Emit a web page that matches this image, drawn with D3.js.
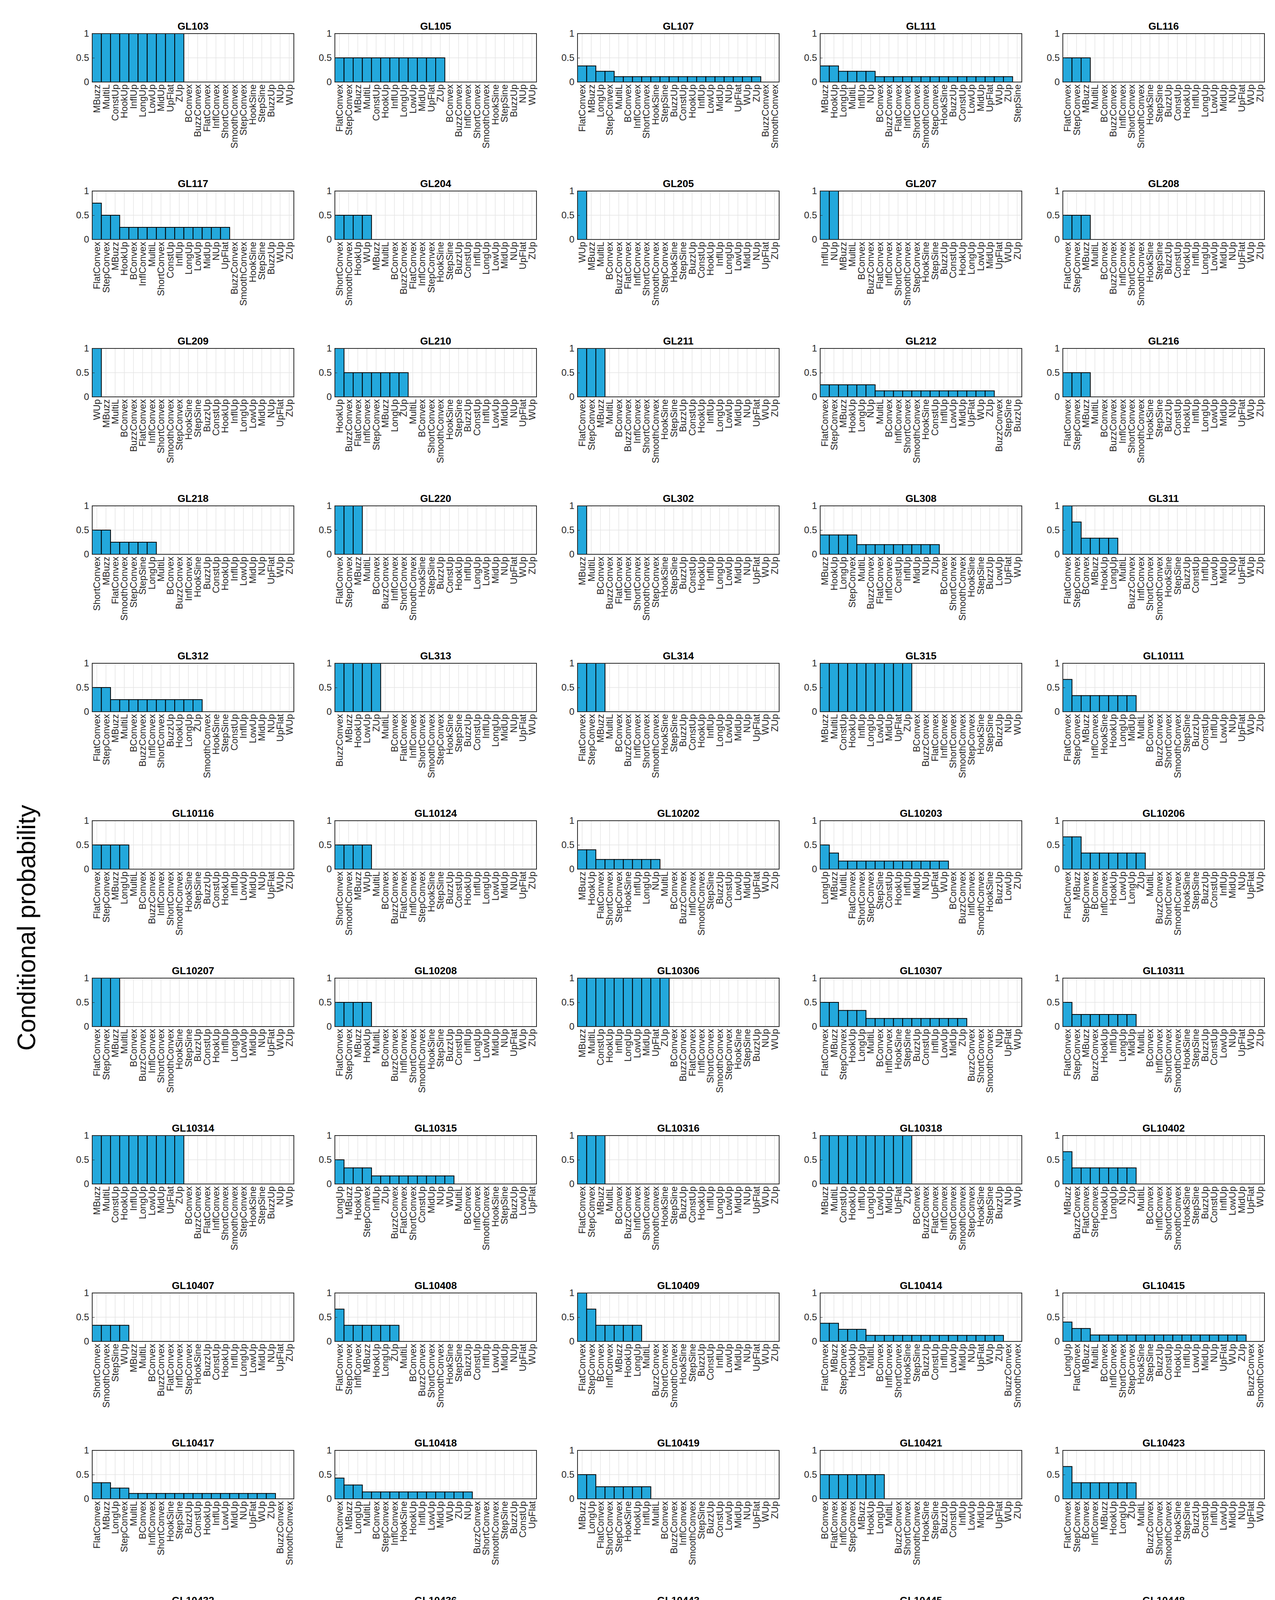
<!DOCTYPE html>
<html>
<head>
<meta charset="utf-8">
<script src="https://cdn.jsdelivr.net/npm/d3@7"></script>
<style>
  body { margin: 0; background: #fff; }
  text { font-family: "Liberation Sans", Arial, sans-serif; }
</style>
</head>
<body>
<div id="chart"></div>
<script>
// master category order (ties and zeros follow this order)
const categories = ["MBuzz", "MultiL", "BConvex", "BuzzConvex", "FlatConvex", "InflConvex",
  "ShortConvex", "SmoothConvex", "StepConvex", "HookSine", "StepSine", "BuzzUp", "ConstUp",
  "HookUp", "InflUp", "LongUp", "LowUp", "MidUp", "NUp", "UpFlat", "WUp", "ZUp"];

const yTicks = [0, 0.5, 1];

const allUp = "MBuzz MultiL ConstUp HookUp InflUp LongUp LowUp MidUp UpFlat ZUp";

// nonzero bars per panel, in displayed order: [value, "labels"]
const panels = [
  {name: "GL103", bars: [[1, allUp]]},
  {name: "GL105", bars: [[0.5, "FlatConvex StepConvex " + allUp]]},
  {name: "GL107", bars: [[0.333, "FlatConvex MBuzz"], [0.222, "LongUp StepConvex"],
    [0.111, "MultiL BConvex InflConvex ShortConvex HookSine StepSine BuzzUp ConstUp HookUp InflUp LowUp MidUp NUp UpFlat WUp ZUp"]]},
  {name: "GL111", bars: [[0.333, "MBuzz HookUp"], [0.222, "LongUp MultiL InflUp NUp"],
    [0.111, "BConvex BuzzConvex FlatConvex InflConvex ShortConvex SmoothConvex StepConvex HookSine BuzzUp ConstUp LowUp MidUp UpFlat WUp ZUp"]]},
  {name: "GL116", bars: [[0.5, "FlatConvex StepConvex MBuzz"]]},

  {name: "GL117", bars: [[0.75, "FlatConvex"], [0.5, "StepConvex MBuzz"],
    [0.25, "HookUp BConvex InflConvex MultiL ShortConvex ConstUp InflUp LongUp LowUp MidUp NUp UpFlat"]]},
  {name: "GL204", bars: [[0.5, "ShortConvex SmoothConvex HookUp WUp"]]},
  {name: "GL205", bars: [[1, "WUp"]]},
  {name: "GL207", bars: [[1, "InflUp NUp"]]},
  {name: "GL208", bars: [[0.5, "FlatConvex StepConvex MBuzz"]]},

  {name: "GL209", bars: [[1, "WUp"]]},
  {name: "GL210", bars: [[1, "HookUp"], [0.5, "BuzzConvex FlatConvex InflConvex StepConvex MBuzz LongUp ZUp"]]},
  {name: "GL211", bars: [[1, "FlatConvex StepConvex MBuzz"]]},
  {name: "GL212", bars: [[0.25, "FlatConvex StepConvex MBuzz HookUp LongUp NUp"],
    [0.125, "MultiL BConvex InflConvex ShortConvex SmoothConvex HookSine ConstUp InflUp LowUp MidUp UpFlat WUp ZUp"]]},
  {name: "GL216", bars: [[0.5, "FlatConvex StepConvex MBuzz"]]},

  {name: "GL218", bars: [[0.5, "ShortConvex MBuzz"], [0.25, "FlatConvex SmoothConvex StepConvex StepSine LongUp"]]},
  {name: "GL220", bars: [[1, "FlatConvex StepConvex MBuzz"]]},
  {name: "GL302", bars: [[1, "MBuzz"]]},
  {name: "GL308", bars: [[0.4, "MBuzz HookUp LongUp StepConvex"],
    [0.2, "MultiL BuzzConvex FlatConvex InflConvex ConstUp InflUp MidUp NUp ZUp"]]},
  {name: "GL311", bars: [[1, "FlatConvex"], [0.667, "StepConvex"], [0.333, "BConvex MBuzz HookUp LongUp"]]},

  {name: "GL312", bars: [[0.5, "FlatConvex StepConvex"],
    [0.25, "MBuzz MultiL BConvex BuzzConvex InflConvex ShortConvex BuzzUp HookUp LongUp ZUp"]]},
  {name: "GL313", bars: [[1, "BuzzConvex MBuzz HookUp LowUp ZUp"]]},
  {name: "GL314", bars: [[1, "FlatConvex StepConvex MBuzz"]]},
  {name: "GL315", bars: [[1, allUp]]},
  {name: "GL10111", bars: [[0.667, "FlatConvex"], [0.333, "StepConvex MBuzz InflConvex HookSine HookUp LongUp MidUp"]]},

  {name: "GL10116", bars: [[0.5, "FlatConvex StepConvex MBuzz LongUp"]]},
  {name: "GL10124", bars: [[0.5, "ShortConvex SmoothConvex MBuzz WUp"]]},
  {name: "GL10202", bars: [[0.4, "MBuzz HookUp"], [0.2, "FlatConvex ShortConvex StepConvex HookSine InflUp LongUp NUp"]]},
  {name: "GL10203", bars: [[0.5, "LongUp"], [0.333, "MBuzz"],
    [0.167, "MultiL FlatConvex ShortConvex StepConvex StepSine ConstUp HookUp InflUp MidUp NUp UpFlat WUp"]]},
  {name: "GL10206", bars: [[0.667, "FlatConvex MBuzz"], [0.333, "StepConvex BConvex InflConvex HookUp LowUp LongUp ZUp"]]},

  {name: "GL10207", bars: [[1, "FlatConvex StepConvex MBuzz"]]},
  {name: "GL10208", bars: [[0.5, "FlatConvex StepConvex MBuzz HookUp"]]},
  {name: "GL10306", bars: [[1, allUp]]},
  {name: "GL10307", bars: [[0.5, "FlatConvex MBuzz"], [0.333, "StepConvex HookUp LongUp"],
    [0.167, "MultiL BConvex InflConvex HookSine StepSine BuzzUp ConstUp InflUp LowUp MidUp ZUp"]]},
  {name: "GL10311", bars: [[0.5, "FlatConvex"], [0.25, "StepConvex MBuzz BuzzConvex HookUp InflUp LongUp MidUp"]]},

  {name: "GL10314", bars: [[1, allUp]]},
  {name: "GL10315", bars: [[0.5, "LongUp"], [0.333, "MBuzz HookUp StepConvex"],
    [0.167, "InflUp ZUp BuzzConvex FlatConvex ShortConvex ConstUp MidUp NUp WUp"]]},
  {name: "GL10316", bars: [[1, "FlatConvex StepConvex MBuzz"]]},
  {name: "GL10318", bars: [[1, allUp]]},
  {name: "GL10402", bars: [[0.667, "MBuzz"], [0.333, "BuzzConvex FlatConvex StepConvex HookUp LongUp NUp ZUp"]]},

  {name: "GL10407", bars: [[0.333, "ShortConvex SmoothConvex StepSine WUp"]]},
  {name: "GL10408", bars: [[0.667, "FlatConvex"], [0.333, "StepConvex InflConvex MBuzz HookUp LongUp ZUp"]]},
  {name: "GL10409", bars: [[1, "FlatConvex"], [0.667, "StepConvex"], [0.333, "BConvex InflConvex MBuzz HookUp LongUp"]]},
  {name: "GL10414", bars: [[0.375, "FlatConvex MBuzz"], [0.25, "StepConvex HookUp LongUp"],
    [0.125, "MultiL BConvex InflConvex ShortConvex HookSine StepSine BuzzUp ConstUp InflUp LowUp MidUp NUp UpFlat WUp ZUp"]]},
  {name: "GL10415", bars: [[0.4, "LongUp"], [0.267, "FlatConvex MBuzz"],
    [0.133, "MultiL BConvex InflConvex ShortConvex StepConvex HookSine StepSine BuzzUp ConstUp HookUp InflUp LowUp MidUp NUp UpFlat WUp ZUp"]]},

  {name: "GL10417", bars: [[0.333, "FlatConvex MBuzz"], [0.222, "LongUp StepConvex"],
    [0.111, "MultiL BConvex InflConvex ShortConvex HookSine StepSine BuzzUp ConstUp HookUp InflUp LowUp MidUp NUp UpFlat WUp ZUp"]]},
  {name: "GL10418", bars: [[0.429, "FlatConvex"], [0.286, "MBuzz LongUp"],
    [0.143, "MultiL BConvex StepConvex InflConvex HookSine HookUp InflUp LowUp MidUp WUp ZUp NUp"]]},
  {name: "GL10419", bars: [[0.5, "MBuzz LongUp"], [0.25, "FlatConvex ShortConvex StepConvex HookSine HookUp InflUp"]]},
  {name: "GL10421", bars: [[0.5, "BConvex FlatConvex InflConvex StepConvex MBuzz HookUp LongUp"]]},
  {name: "GL10423", bars: [[0.667, "FlatConvex"], [0.333, "StepConvex BConvex InflConvex MBuzz HookUp LongUp ZUp"]]},

  {name: "GL10432", bars: [[1, "FlatConvex StepConvex MBuzz"]]},
  {name: "GL10436", bars: [[0.5, "FlatConvex StepConvex MBuzz LongUp"]]},
  {name: "GL10443", bars: [[1, "FlatConvex StepConvex MBuzz"]]},
  {name: "GL10445", bars: [[0.5, "FlatConvex StepConvex MBuzz HookUp LongUp"]]},
  {name: "GL10448", bars: [[0.6, "FlatConvex"], [0.4, "StepConvex"],
    [0.2, "MultiL MBuzz BConvex InflConvex HookSine StepSine HookUp InflUp LongUp LowUp MidUp NUp ZUp"]]},

  {name: "GL10450", bars: [[1, "FlatConvex StepConvex MBuzz"]]},
  {name: "GC01", bars: [[1, allUp]]}
];

const W = 3263, H = 4940;
const colX0 = 236, colStep = 621, plotW = 516, plotH = 124;
const rowY0 = 86, rowStep = 403;
const barColor = "#23a8dc";

const svg = d3.select("#chart").append("svg")
  .attr("width", W).attr("height", H)
  .attr("viewBox", `0 0 ${W} ${H}`);

const y = d3.scaleLinear().domain([0, 1]).range([plotH, 0]);

panels.forEach((p, i) => {
  const row = Math.floor(i / 5);
  let col = i % 5;
  let px = colX0 + col * colStep;
  if (row === 11) px = 1175 + col * colStep;
  const py = rowY0 + row * rowStep;

  // build display order: listed bars, then zeros in master order
  const data = [];
  p.bars.forEach(([v, labels]) => labels.split(" ").forEach(l => data.push({cat: l, value: v})));
  categories.forEach(c => { if (!data.find(d => d.cat === c)) data.push({cat: c, value: 0}); });

  const x = d3.scaleBand().domain(data.map(d => d.cat)).range([0, plotW]).padding(0);

  const g = svg.append("g").attr("transform", `translate(${px},${py})`);

  // grid
  g.selectAll(".vgrid").data(data).join("line")
    .attr("x1", d => x(d.cat) + x.bandwidth() / 2).attr("x2", d => x(d.cat) + x.bandwidth() / 2)
    .attr("y1", 0).attr("y2", plotH)
    .attr("stroke", "#e4e4e4").attr("stroke-width", 1.5);
  g.selectAll(".hgrid").data(yTicks).join("line")
    .attr("x1", 0).attr("x2", plotW)
    .attr("y1", d => y(d)).attr("y2", d => y(d))
    .attr("stroke", "#e4e4e4").attr("stroke-width", 1.5);

  // bars
  g.selectAll("rect.bar").data(data.filter(d => d.value > 0)).join("rect")
    .attr("class", "bar")
    .attr("x", d => x(d.cat)).attr("width", x.bandwidth())
    .attr("y", d => y(d.value)).attr("height", d => plotH - y(d.value))
    .attr("fill", barColor).attr("stroke", "#000").attr("stroke-width", 2);

  // box
  g.append("rect").attr("width", plotW).attr("height", plotH)
    .attr("fill", "none").attr("stroke", "#262626").attr("stroke-width", 2);

  // axes
  const ax = g.append("g").attr("transform", `translate(0,${plotH})`)
    .call(d3.axisBottom(x).tickSize(0).tickPadding(6));
  ax.select(".domain").remove();
  ax.selectAll("text")
    .attr("transform", "rotate(-90)")
    .attr("text-anchor", "end")
    .attr("x", -6).attr("y", 0).attr("dy", "0.35em")
    .style("font-size", "24px").style("fill", "#262626");

  const ay = g.append("g").call(d3.axisLeft(y).tickValues(yTicks).tickSize(6).tickFormat(d3.format("")));
  ay.select(".domain").remove();
  ay.selectAll("line").attr("stroke", "#262626").attr("x2", 6);
  ay.selectAll("text").style("font-size", "24px").style("fill", "#262626").attr("x", -8);

  g.append("text").attr("x", plotW / 2).attr("y", -10)
    .attr("text-anchor", "middle")
    .style("font-size", "26px").style("font-weight", "bold").style("fill", "#000")
    .text(p.name);
});

svg.append("text")
  .attr("transform", `translate(90,2375) rotate(-90)`)
  .attr("text-anchor", "middle")
  .style("font-size", "64px").style("fill", "#000")
  .text("Conditional probability");

svg.append("text")
  .attr("x", 1715).attr("y", 4905)
  .attr("text-anchor", "middle")
  .style("font-size", "64px").style("fill", "#000")
  .text("SW contours");
</script>
</body>
</html>
